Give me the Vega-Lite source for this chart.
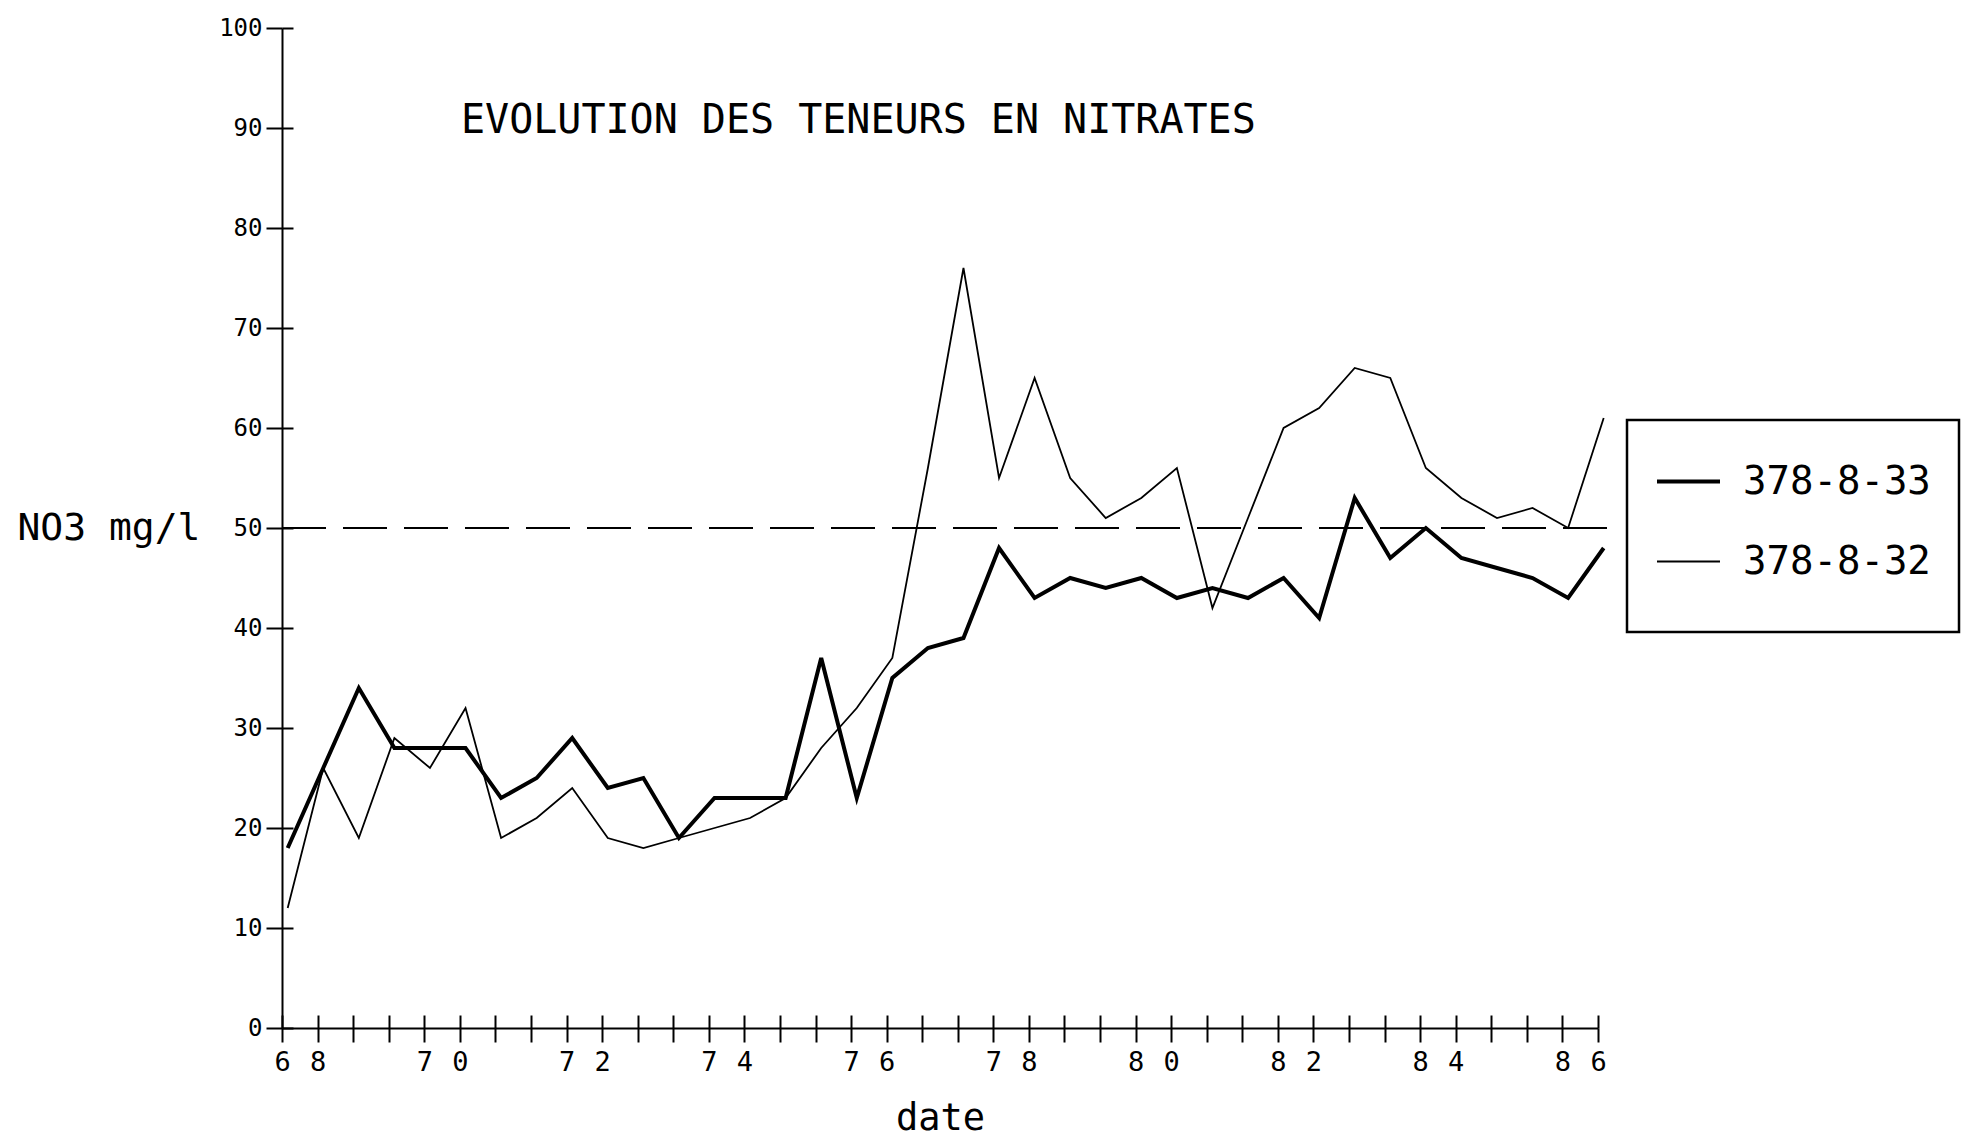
{
  "$schema": "https://vega.github.io/schema/vega-lite/v6.json",
  "width": 1316,
  "height": 1000,
  "autosize": {"type": "none"},
  "padding": {"left": 282, "top": 28, "right": 367, "bottom": 109},
  "background": "white",
  "config": {"view": {"stroke": null}, "font": "DejaVu Sans Mono", "legend": {"strokeWidth": 2.5}},
  "title": {
    "text": "EVOLUTION DES TENEURS EN NITRATES",
    "anchor": "start",
    "frame": "group",
    "dx": 179,
    "offset": -157,
    "baseline": "alphabetic",
    "font": "DejaVu Sans Mono",
    "fontSize": 40,
    "fontWeight": "normal",
    "color": "black"
  },
  "datasets": {
    "nitrates": [
      {"year": 68.08, "series": "378-8-33", "no3": 18}, {"year": 68.08, "series": "378-8-32", "no3": 12},
      {"year": 68.58, "series": "378-8-33", "no3": 26}, {"year": 68.58, "series": "378-8-32", "no3": 26},
      {"year": 69.08, "series": "378-8-33", "no3": 34}, {"year": 69.08, "series": "378-8-32", "no3": 19},
      {"year": 69.58, "series": "378-8-33", "no3": 28}, {"year": 69.58, "series": "378-8-32", "no3": 29},
      {"year": 70.08, "series": "378-8-33", "no3": 28}, {"year": 70.08, "series": "378-8-32", "no3": 26},
      {"year": 70.58, "series": "378-8-33", "no3": 28}, {"year": 70.58, "series": "378-8-32", "no3": 32},
      {"year": 71.08, "series": "378-8-33", "no3": 23}, {"year": 71.08, "series": "378-8-32", "no3": 19},
      {"year": 71.58, "series": "378-8-33", "no3": 25}, {"year": 71.58, "series": "378-8-32", "no3": 21},
      {"year": 72.08, "series": "378-8-33", "no3": 29}, {"year": 72.08, "series": "378-8-32", "no3": 24},
      {"year": 72.58, "series": "378-8-33", "no3": 24}, {"year": 72.58, "series": "378-8-32", "no3": 19},
      {"year": 73.08, "series": "378-8-33", "no3": 25}, {"year": 73.08, "series": "378-8-32", "no3": 18},
      {"year": 73.58, "series": "378-8-33", "no3": 19}, {"year": 73.58, "series": "378-8-32", "no3": 19},
      {"year": 74.08, "series": "378-8-33", "no3": 23}, {"year": 74.08, "series": "378-8-32", "no3": 20},
      {"year": 74.58, "series": "378-8-33", "no3": 23}, {"year": 74.58, "series": "378-8-32", "no3": 21},
      {"year": 75.08, "series": "378-8-33", "no3": 23}, {"year": 75.08, "series": "378-8-32", "no3": 23},
      {"year": 75.58, "series": "378-8-33", "no3": 37}, {"year": 75.58, "series": "378-8-32", "no3": 28},
      {"year": 76.08, "series": "378-8-33", "no3": 23}, {"year": 76.08, "series": "378-8-32", "no3": 32},
      {"year": 76.58, "series": "378-8-33", "no3": 35}, {"year": 76.58, "series": "378-8-32", "no3": 37},
      {"year": 77.08, "series": "378-8-33", "no3": 38}, {"year": 77.08, "series": "378-8-32", "no3": 56},
      {"year": 77.58, "series": "378-8-33", "no3": 39}, {"year": 77.58, "series": "378-8-32", "no3": 76},
      {"year": 78.08, "series": "378-8-33", "no3": 48}, {"year": 78.08, "series": "378-8-32", "no3": 55},
      {"year": 78.58, "series": "378-8-33", "no3": 43}, {"year": 78.58, "series": "378-8-32", "no3": 65},
      {"year": 79.08, "series": "378-8-33", "no3": 45}, {"year": 79.08, "series": "378-8-32", "no3": 55},
      {"year": 79.58, "series": "378-8-33", "no3": 44}, {"year": 79.58, "series": "378-8-32", "no3": 51},
      {"year": 80.08, "series": "378-8-33", "no3": 45}, {"year": 80.08, "series": "378-8-32", "no3": 53},
      {"year": 80.58, "series": "378-8-33", "no3": 43}, {"year": 80.58, "series": "378-8-32", "no3": 56},
      {"year": 81.08, "series": "378-8-33", "no3": 44}, {"year": 81.08, "series": "378-8-32", "no3": 42},
      {"year": 81.58, "series": "378-8-33", "no3": 43}, {"year": 81.58, "series": "378-8-32", "no3": 51},
      {"year": 82.08, "series": "378-8-33", "no3": 45}, {"year": 82.08, "series": "378-8-32", "no3": 60},
      {"year": 82.58, "series": "378-8-33", "no3": 41}, {"year": 82.58, "series": "378-8-32", "no3": 62},
      {"year": 83.08, "series": "378-8-33", "no3": 53}, {"year": 83.08, "series": "378-8-32", "no3": 66},
      {"year": 83.58, "series": "378-8-33", "no3": 47}, {"year": 83.58, "series": "378-8-32", "no3": 65},
      {"year": 84.08, "series": "378-8-33", "no3": 50}, {"year": 84.08, "series": "378-8-32", "no3": 56},
      {"year": 84.58, "series": "378-8-33", "no3": 47}, {"year": 84.58, "series": "378-8-32", "no3": 53},
      {"year": 85.08, "series": "378-8-33", "no3": 46}, {"year": 85.08, "series": "378-8-32", "no3": 51},
      {"year": 85.58, "series": "378-8-33", "no3": 45}, {"year": 85.58, "series": "378-8-32", "no3": 52},
      {"year": 86.08, "series": "378-8-33", "no3": 43}, {"year": 86.08, "series": "378-8-32", "no3": 50},
      {"year": 86.58, "series": "378-8-33", "no3": 48}, {"year": 86.58, "series": "378-8-32", "no3": 61}
    ],
    "threshold": [
      {"limit": 50, "from": 68, "to": 86.8}
    ]
  },
  "layer": [
    {
      "data": {"name": "nitrates"},
      "mark": {"type": "line", "strokeCap": "butt", "strokeJoin": "miter"},
      "encoding": {
        "x": {
          "field": "year", "type": "quantitative",
          "scale": {"domain": [68, 86.5], "nice": false, "zero": false},
          "axis": {
            "orient": "bottom",
            "values": [68, 68.5, 69, 69.5, 70, 70.5, 71, 71.5, 72, 72.5, 73, 73.5, 74, 74.5, 75, 75.5, 76, 76.5, 77, 77.5, 78, 78.5, 79, 79.5, 80, 80.5, 81, 81.5, 82, 82.5, 83, 83.5, 84, 84.5, 85, 85.5, 86, 86.5],
            "labelExpr": "datum.value % 2 == 0 ? '' + floor(datum.value / 10) : (datum.value % 2 == 0.5 ? '' + (floor(datum.value) % 10) : '')",
            "grid": false,
            "tickSize": 14, "tickWidth": 2, "tickColor": "black",
            "domainColor": "black", "domainWidth": 2,
            "labelFont": "DejaVu Sans Mono", "labelFontSize": 27, "labelColor": "black",
            "labelPadding": 7, "labelFlush": false, "labelOverlap": false,
            "title": "date",
            "titleFont": "DejaVu Sans Mono", "titleFontSize": 37, "titleFontWeight": "normal", "titleColor": "black",
            "titleBaseline": "alphabetic", "titleY": 101
          }
        },
        "y": {
          "field": "no3", "type": "quantitative",
          "scale": {"domain": [0, 100], "nice": false},
          "axis": {
            "orient": "left",
            "values": [0, 10, 20, 30, 40, 50, 60, 70, 80, 90, 100],
            "grid": false,
            "tickSize": 16, "tickWidth": 2, "tickColor": "black",
            "domainColor": "black", "domainWidth": 2,
            "labelFont": "DejaVu Sans Mono", "labelFontSize": 24, "labelColor": "black",
            "labelPadding": 4, "labelFlush": false, "labelOverlap": false,
            "title": "NO3 mg/l",
            "titleFont": "DejaVu Sans Mono", "titleFontSize": 38, "titleFontWeight": "normal", "titleColor": "black",
            "titleAngle": 0, "titleAlign": "right", "titleBaseline": "middle",
            "titleX": -82, "titleY": 500
          }
        },
        "color": {
          "field": "series", "type": "nominal",
          "scale": {"domain": ["378-8-33", "378-8-32"], "range": ["black", "black"]},
          "legend": {
            "title": " ", "titleOrient": "bottom", "titleFontSize": 16, "titlePadding": 6,
            "orient": "none", "legendX": 1345, "legendY": 392,
            "direction": "vertical", "padding": 28,
            "strokeColor": "black", "fillColor": "white",
            "symbolType": "stroke", "symbolSize": 3969,
            "labelFont": "DejaVu Sans Mono", "labelFontSize": 39, "labelColor": "black",
            "labelOffset": 21, "rowPadding": 27, "labelLimit": 400
          }
        },
        "strokeWidth": {
          "field": "series", "type": "nominal",
          "scale": {"domain": ["378-8-33", "378-8-32"], "range": [4, 1.8]},
          "legend": {
            "title": " ", "titleOrient": "bottom", "titleFontSize": 16, "titlePadding": 6,
            "orient": "none", "legendX": 1345, "legendY": 392,
            "direction": "vertical", "padding": 28,
            "strokeColor": "black", "fillColor": "white",
            "symbolType": "stroke", "symbolSize": 3969,
            "labelFont": "DejaVu Sans Mono", "labelFontSize": 39, "labelColor": "black",
            "labelOffset": 21, "rowPadding": 27, "labelLimit": 400
          }
        }
      }
    },
    {
      "data": {"name": "threshold"},
      "mark": {"type": "rule", "strokeDash": [44, 17], "strokeWidth": 2, "color": "black"},
      "encoding": {
        "x": {
          "field": "from", "type": "quantitative",
          "scale": {"domain": [68, 86.5], "nice": false, "zero": false},
          "axis": {
            "orient": "top", "offset": -1000,
            "values": [68, 68.5, 69, 69.5, 70, 70.5, 71, 71.5, 72, 72.5, 73, 73.5, 74, 74.5, 75, 75.5, 76, 76.5, 77, 77.5, 78, 78.5, 79, 79.5, 80, 80.5, 81, 81.5, 82, 82.5, 83, 83.5, 84, 84.5, 85, 85.5, 86, 86.5],
            "labels": false, "domain": false, "grid": false, "title": null,
            "tickSize": 13, "tickWidth": 2, "tickColor": "black"
          }
        },
        "x2": {"field": "to"},
        "y": {
          "field": "limit", "type": "quantitative",
          "scale": {"domain": [0, 100], "nice": false},
          "axis": {
            "orient": "right", "offset": -1316,
            "values": [0, 10, 20, 30, 40, 50, 60, 70, 80, 90, 100],
            "labels": false, "domain": false, "grid": false, "title": null,
            "tickSize": 11, "tickWidth": 2, "tickColor": "black"
          }
        }
      }
    }
  ],
  "resolve": {"axis": {"x": "independent", "y": "independent"}}
}
